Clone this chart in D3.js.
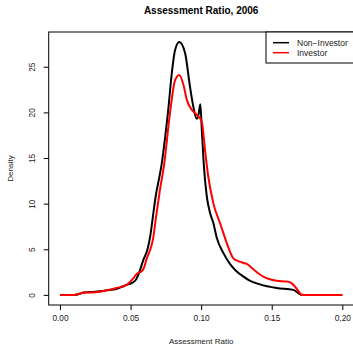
<!DOCTYPE html>
<html>
<head>
<meta charset="UTF-8">
<title>Assessment Ratio, 2006</title>
<script src="https://cdn.jsdelivr.net/npm/d3@7"></script>
<style type="text/css">
	body{ margin:0; background:#fff; }
	text{ font-family: "Liberation Sans", Arial, sans-serif; }
</style>
</head>
<body>
<script>
// density curves: [ratio, density]
var nonInvestor = [
	[0.000,0],[0.010,0],[0.017,0.25],[0.025,0.35],[0.033,0.5],[0.040,0.65],
	[0.0425,0.8],[0.048,1.15],[0.0508,1.3],[0.0535,1.6],[0.0555,2.2],[0.059,3.8],
	[0.062,5.0],[0.064,6.5],[0.066,8.8],[0.068,11.0],[0.070,12.6],[0.072,14.3],
	[0.0745,17.3],[0.0767,20.3],[0.079,24.0],[0.0815,26.8],[0.0845,27.7],[0.0886,26.5],
	[0.0921,22.8],[0.0945,20.6],[0.0968,19.3],[0.0982,19.8],[0.0994,20.9],[0.1005,18.0],
	[0.1020,14.0],[0.1040,10.8],[0.1063,9.0],[0.1086,7.9],[0.111,6.3],[0.1157,4.6],
	[0.1204,3.4],[0.125,2.6],[0.130,2.0],[0.1334,1.65],[0.1417,1.15],[0.1535,0.75],
	[0.1653,0.55],[0.1688,0.2],[0.171,0],[0.200,0]
];
var investor = [
	[0.000,0],[0.010,0],[0.017,0.25],[0.025,0.3],[0.033,0.5],[0.040,0.75],
	[0.0472,1.1],[0.0519,1.8],[0.0543,2.3],[0.057,2.5],[0.059,2.8],[0.0615,4.0],
	[0.064,5.0],[0.066,6.2],[0.068,8.5],[0.0708,11.5],[0.0737,14.2],[0.0779,19.9],
	[0.0815,23.5],[0.0845,24.1],[0.0875,23.0],[0.0898,21.4],[0.0933,20.3],[0.0965,19.8],
	[0.0983,19.5],[0.1004,19.0],[0.1030,15.5],[0.1050,13.0],[0.1087,10.0],[0.1134,7.85],
	[0.1157,6.8],[0.1181,5.7],[0.1228,4.0],[0.1263,3.7],[0.1300,3.5],[0.1323,3.4],
	[0.137,2.8],[0.144,2.0],[0.1535,1.55],[0.1606,1.46],[0.1640,1.3],[0.1675,0.7],
	[0.171,0.05],[0.173,0],[0.200,0]
];
var xTicks = [0, 0.05, 0.10, 0.15, 0.20];
var yTicks = [0, 5, 10, 15, 20, 25];
var seriesNames = ["Non\u2212Investor", "Investor"];
var seriesColors = ["black", "red"];

var width = 353, height = 346;
var padLeft = 48.7, padRight = 353.6, padTop = 32, padBottom = 305;

var svg = d3.select("body").append("svg")
	.attr("width", width)
	.attr("height", height);

// R pads the data range by 4% on each side
var x = d3.scaleLinear().domain([-0.008, 0.208]).range([padLeft, padRight]);
var y = d3.scaleLinear().domain([-1.108, 28.808]).range([padBottom, padTop]);

var line = d3.line()
	.x(function(d){ return x(d[0]); })
	.y(function(d){ return y(d[1]); })
	.curve(d3.curveMonotoneX);

[nonInvestor, investor].forEach(function(s, i){
	svg.append("path")
		.datum(s)
		.attr("d", line)
		.attr("fill", "none")
		.attr("stroke", seriesColors[i])
		.attr("stroke-width", 2);
});

// plot box
svg.append("rect")
	.attr("x", padLeft).attr("y", padTop)
	.attr("width", padRight - padLeft).attr("height", padBottom - padTop)
	.attr("fill", "none").attr("stroke", "black").attr("stroke-width", 1);

var xAxis = d3.axisBottom(x).tickValues(xTicks)
	.tickFormat(d3.format(".2f")).tickSize(5).tickPadding(5);
var gx = svg.append("g")
	.attr("transform", "translate(0," + padBottom + ")")
	.call(xAxis);
gx.select(".domain").remove();
gx.selectAll("text").attr("font-size", 8.3).attr("font-family", "Liberation Sans, Arial, sans-serif").attr("fill", "#222");

var yAxis = d3.axisLeft(y).tickValues(yTicks).tickSize(5).tickPadding(0);
var gy = svg.append("g")
	.attr("transform", "translate(" + padLeft + ",0)")
	.call(yAxis);
gy.select(".domain").remove();
gy.selectAll("text")
	.attr("font-size", 8.3)
	.attr("font-family", "Liberation Sans, Arial, sans-serif")
	.attr("fill", "#222")
	.attr("x", null).attr("dy", null)
	.attr("text-anchor", "middle")
	.attr("transform", "translate(-14,0) rotate(-90)");

// titles
svg.append("text")
	.attr("x", (padLeft + padRight) / 2).attr("y", 14)
	.attr("text-anchor", "middle")
	.attr("font-size", 10).attr("font-weight", "bold")
	.text("Assessment Ratio, 2006");

svg.append("text")
	.attr("x", (padLeft + padRight) / 2).attr("y", 344)
	.attr("text-anchor", "middle")
	.attr("font-size", 8).attr("fill", "#222")
	.text("Assessment Ratio");

svg.append("text")
	.attr("transform", "translate(13," + ((padTop + padBottom) / 2) + ") rotate(-90)")
	.attr("text-anchor", "middle")
	.attr("font-size", 8).attr("fill", "#222")
	.text("Density");

// legend
var legend = svg.append("g");
legend.append("rect")
	.attr("x", 266).attr("y", padTop)
	.attr("width", 100).attr("height", 31)
	.attr("fill", "white").attr("stroke", "black").attr("stroke-width", 1);
seriesNames.forEach(function(n, i){
	var ly = 42.7 + i * 10;
	legend.append("line")
		.attr("x1", 273).attr("x2", 289)
		.attr("y1", ly).attr("y2", ly)
		.attr("stroke", seriesColors[i]).attr("stroke-width", 1.5);
	legend.append("text")
		.attr("x", 297).attr("y", ly + 3)
		.attr("font-size", 8.5).attr("fill", "#222")
		.text(n);
});
</script>
</body>
</html>
